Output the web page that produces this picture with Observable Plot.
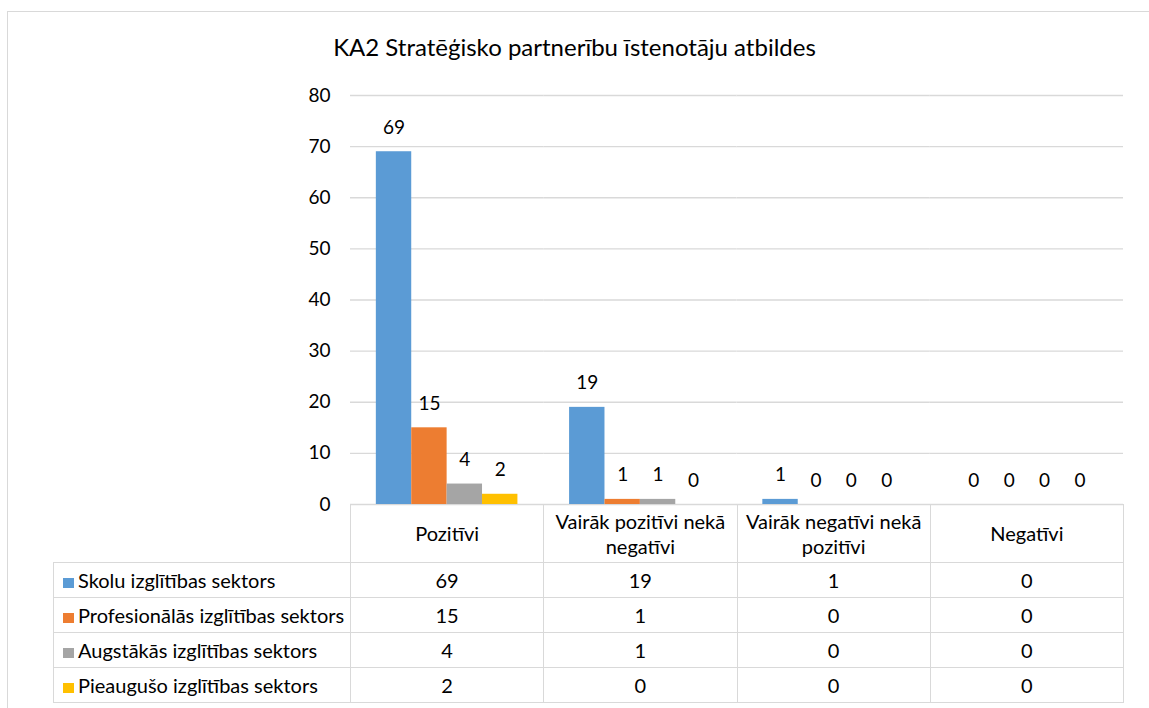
<!DOCTYPE html>
<html><head><meta charset="utf-8">
<script src="https://cdn.jsdelivr.net/npm/d3@7"></script>
<script src="https://cdn.jsdelivr.net/npm/@observablehq/plot@0.6"></script>
<style>
body{margin:0;background:#fff;font-family:Lato,"Open Sans",sans-serif;color:#000;}
#frame{position:absolute;left:7px;top:11px;width:1160px;height:720px;border:1px solid #d9d9d9;box-sizing:border-box}
#title{position:absolute;left:0;width:1149px;top:33px;text-align:center;font-size:24px;line-height:28px}
#chart{position:absolute;left:0;top:0}
table{position:absolute;border-collapse:collapse;left:53px;top:504px;font-size:20px;table-layout:fixed}
td{border:1px solid #d9d9d9;text-align:center;padding:0;white-space:nowrap}
td.lab{text-align:left;padding-left:9px}
.sw{display:inline-block;width:11px;height:10px;margin-right:4px;vertical-align:0px}
</style>
</head><body>
<div id="frame"></div>
<div id="title">KA2 Stratēģisko partnerību īstenotāju atbildes</div>
<div id="chart"></div>
<table id="tbl"></table>
<script>
const categories = ["Pozitīvi", "Vairāk pozitīvi nekā negatīvi", "Vairāk negatīvi nekā pozitīvi", "Negatīvi"];
const categoryLines = [["Pozitīvi"], ["Vairāk pozitīvi nekā", "negatīvi"], ["Vairāk negatīvi nekā", "pozitīvi"], ["Negatīvi"]];
const series = ["Skolu izglītības sektors", "Profesionālās izglītības sektors", "Augstākās izglītības sektors", "Pieaugušo izglītības sektors"];
const skolu = [69, 19, 1, 0];
const profesionalas = [15, 1, 0, 0];
const augstakas = [4, 1, 0, 0];
const pieauguso = [2, 0, 0, 0];
const colors = ["#5B9BD5", "#ED7D31", "#A5A5A5", "#FFC000"];
const yTicks = [0, 10, 20, 30, 40, 50, 60, 70, 80];

const values = [skolu, profesionalas, augstakas, pieauguso];
const data = series.flatMap((s, i) => categories.map((c, j) => ({category: c, series: s, value: values[i][j]})));

const W = 1149, H = 708;
const chart = Plot.plot({
  width: W, height: H,
  marginTop: 95, marginBottom: H - 504, marginLeft: 350, marginRight: W - 1123,
  style: {fontFamily: "Lato, 'Open Sans', sans-serif", fontSize: "19px", color: "#000", background: "transparent"},
  fx: {domain: categories, padding: 0, axis: null, round: false},
  x: {domain: series, paddingInner: 0, paddingOuter: 0.73, axis: null, round: false},
  y: {domain: [0, 80], ticks: yTicks, tickSize: 0, tickPadding: 20, label: null},
  color: {domain: series, range: colors},
  marks: [
    Plot.ruleY(yTicks, {stroke: "#d9d9d9", strokeWidth: 1.3}),
    Plot.barY(data, {fx: "category", x: "series", y: "value", fill: "series"}),
    Plot.text(data, {fx: "category", x: "series", y: "value", text: d => String(d.value), dy: -24, fontSize: 19, fill: "#000"})
  ]
});
document.getElementById("chart").appendChild(chart);

// data table
const tbl = d3.select("#tbl");
const colW = (1123 - 350) / categories.length;
const cg = tbl.append("colgroup");
cg.append("col").style("width", "297px");
categories.forEach(() => cg.append("col").style("width", colW + "px"));
const hr = tbl.append("tr").style("height", "58px");
hr.append("td").style("border-top", "none").style("border-left", "none");
categoryLines.forEach(lines => hr.append("td").style("line-height", "25px").html(lines.join("<br>")));
series.forEach((s, i) => {
  const r = tbl.append("tr").style("height", "35px");
  const c = r.append("td").attr("class", "lab");
  c.append("span").attr("class", "sw").style("background", colors[i]);
  c.append("span").text(s);
  values[i].forEach(v => r.append("td").text(v));
});
</script>
</body></html>
